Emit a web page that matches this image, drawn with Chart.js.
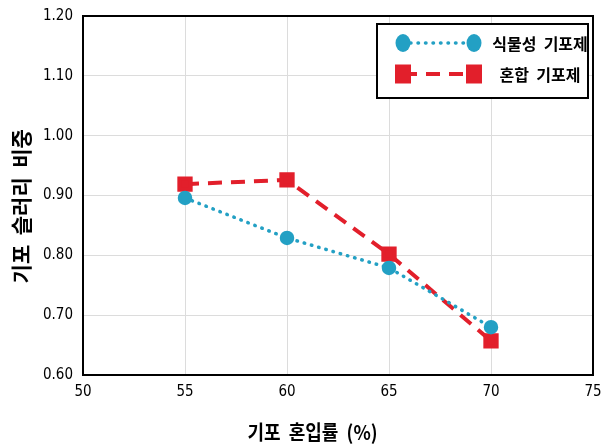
<!DOCTYPE html>
<html><head><meta charset="utf-8">
<script src="https://cdn.jsdelivr.net/npm/chart.js@4/dist/chart.umd.min.js"></script>
<style>html,body{margin:0;padding:0;background:#fff;} #wrap{width:605px;height:447px;position:relative;}</style>
</head><body><div id="wrap"><canvas id="c" width="605" height="447"></canvas></div>
<script>
const xValues = [55, 60, 65, 70];
const plantValues = [0.896, 0.829, 0.779, 0.680];
const mixedValues = [0.919, 0.926, 0.802, 0.657];
const seriesLabels = ['식물성  기포제', '혼합  기포제'];
const xTickValues = [50, 55, 60, 65, 70, 75];
const yTickValues = [0.60, 0.70, 0.80, 0.90, 1.00, 1.10, 1.20];
const xTitle = '기포  혼입률  (%)';
const yTitle = '기포  슬러리  비중';

const TEAL = '#23a0c4';
const RED = '#e21f2b';
const NUM_FONT = "'DejaVu Sans Condensed', 'Liberation Sans Narrow', 'Liberation Sans', sans-serif";
const KR_FONT = "'Noto Sans CJK KR', 'Noto Sans', sans-serif";

const borderPlugin = {
  id: 'frame',
  beforeDatasetsDraw(chart) {
    const {ctx, chartArea: a} = chart;
    ctx.save();
    ctx.strokeStyle = '#000';
    ctx.lineWidth = 2;
    ctx.strokeRect(a.left, a.top, a.right - a.left, a.bottom - a.top);
    ctx.restore();
  }
};

const titlePlugin = {
  id: 'axisTitles',
  afterDraw(chart) {
    const {ctx, chartArea: a} = chart;
    ctx.save();
    ctx.fillStyle = '#000';
    ctx.textAlign = 'center';
    ctx.textBaseline = 'middle';
    ctx.font = "bold 20px " + KR_FONT;
    ctx.save();
    ctx.translate(a.left + (a.right - a.left) * 0.45, a.bottom + 57);
    ctx.scale(0.9, 1);
    ctx.fillText(xTitle, 0, 0);
    ctx.restore();
    ctx.save();
    ctx.font = "bold 21px " + KR_FONT;
    ctx.translate(a.left - 62, a.top + (a.bottom - a.top) * 0.53);
    ctx.rotate(-Math.PI / 2);
    ctx.fillText(yTitle, 0, 0);
    ctx.restore();
    ctx.restore();
  }
};

const legendPlugin = {
  id: 'customLegend',
  afterDatasetsDraw(chart) {
    const {ctx, chartArea: a} = chart;
    const bx = a.right - 216, by = a.top + 8, bw = 211, bh = 74;
    ctx.save();
    ctx.fillStyle = '#fff';
    ctx.fillRect(bx, by, bw, bh);
    ctx.strokeStyle = '#000';
    ctx.lineWidth = 2;
    ctx.strokeRect(bx, by, bw, bh);
    const x1 = bx + 26, x2 = bx + 97, tx = bx + 163;
    const rows = [by + 19, by + 50];
    chart.data.datasets.forEach((ds, i) => {
      const y = rows[i];
      ctx.save();
      ctx.strokeStyle = ds.borderColor;
      ctx.lineWidth = ds.borderWidth;
      ctx.lineCap = ds.borderCapStyle || 'butt';
      ctx.setLineDash(ds.borderDash || []);
      ctx.beginPath();
      ctx.moveTo(x1, y); ctx.lineTo(x2, y);
      ctx.stroke();
      ctx.restore();
      ctx.fillStyle = ds.pointBackgroundColor;
      [x1, x2].forEach(x => {
        ctx.beginPath();
        if (ds.pointStyle === 'rect') {
          ctx.rect(x - 8, y - 9.5, 16, 19);
        } else {
          ctx.ellipse(x, y, 7.5, 9, 0, 0, Math.PI * 2);
        }
        ctx.fill();
      });
      ctx.fillStyle = '#000';
      ctx.font = "bold 16px " + KR_FONT;
      ctx.textAlign = 'center';
      ctx.textBaseline = 'middle';
      ctx.fillText(ds.label, tx, y + 1);
    });
    ctx.restore();
  }
};

new Chart(document.getElementById('c'), {
  type: 'line',
  data: {
    datasets: [
      {
        label: seriesLabels[0],
        data: xValues.map((x, i) => ({x, y: plantValues[i]})),
        borderColor: TEAL,
        backgroundColor: TEAL,
        pointBackgroundColor: TEAL,
        pointBorderColor: TEAL,
        pointStyle: 'circle',
        pointRadius: 5.5,
        borderWidth: 3.5,
        borderDash: [0.5, 7],
        borderCapStyle: 'round',
        tension: 0
      },
      {
        label: seriesLabels[1],
        data: xValues.map((x, i) => ({x, y: mixedValues[i]})),
        borderColor: RED,
        backgroundColor: RED,
        pointBackgroundColor: RED,
        pointBorderColor: RED,
        pointStyle: 'rect',
        pointRadius: 8,
        borderWidth: 4,
        borderDash: [14, 9],
        borderCapStyle: 'butt',
        tension: 0
      }
    ]
  },
  options: {
    responsive: false,
    animation: false,
    devicePixelRatio: 1,
    layout: {padding: {top: 16, right: 11, left: 0, bottom: 0}},
    plugins: {legend: {display: false}, tooltip: {enabled: false}},
    scales: {
      x: {
        type: 'linear', min: 50, max: 75,
        afterBuildTicks(s) { s.ticks = xTickValues.map(v => ({value: v})); },
        afterFit(s) { s.height = 72; s.paddingRight = 0; s.paddingLeft = 0; },
        ticks: {color: '#000', padding: 8, font: {family: NUM_FONT, size: 15}, callback: v => String(v), maxRotation: 0},
        grid: {color: '#dcdcdc', lineWidth: 1, drawTicks: false},
        border: {display: false}
      },
      y: {
        type: 'linear', min: 0.6, max: 1.2,
        afterBuildTicks(s) { s.ticks = yTickValues.map(v => ({value: v})); },
        afterFit(s) { s.width = 83; s.paddingTop = 0; s.paddingBottom = 0; },
        ticks: {color: '#000', padding: 10, font: {family: NUM_FONT, size: 15}, callback: v => v.toFixed(2)},
        grid: {color: '#dcdcdc', lineWidth: 1, drawTicks: false},
        border: {display: false}
      }
    }
  },
  plugins: [borderPlugin, legendPlugin, titlePlugin]
});
</script>
</body></html>
